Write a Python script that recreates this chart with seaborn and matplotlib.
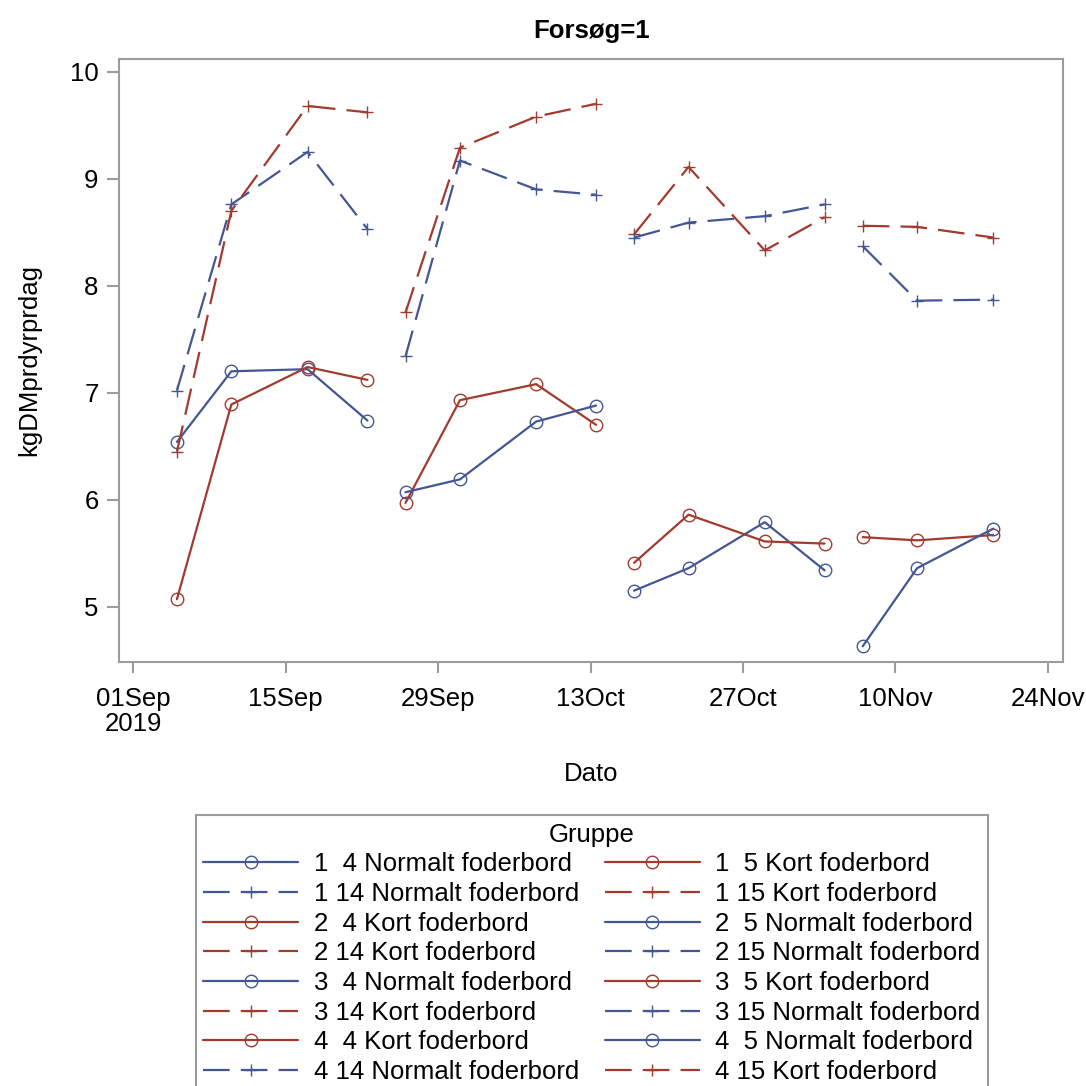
import matplotlib
matplotlib.use("Agg")
import matplotlib.pyplot as plt
import matplotlib.dates as mdates
from matplotlib.lines import Line2D
from matplotlib.path import Path
import pandas as pd
import seaborn as sns

# sampling dates for each trial period
dates_p1 = ["2019-09-05", "2019-09-10", "2019-09-17", "2019-09-22 12:00"]
dates_p2 = ["2019-09-26", "2019-10-01", "2019-10-08", "2019-10-13 12:00"]
dates_p3 = ["2019-10-17", "2019-10-22", "2019-10-29", "2019-11-03 12:00"]
dates_p4 = ["2019-11-07", "2019-11-12", "2019-11-19"]

# kg DM per animal per day, one list per group (period, pen, feed table)
v_1_4 = [6.54, 7.20, 7.22, 6.74]
v_1_14 = [7.02, 8.76, 9.25, 8.53]
v_2_4 = [5.97, 6.93, 7.08, 6.70]
v_2_14 = [7.75, 9.29, 9.58, 9.70]
v_3_4 = [5.15, 5.36, 5.79, 5.34]
v_3_14 = [8.48, 9.11, 8.33, 8.64]
v_4_4 = [5.65, 5.62, 5.67]
v_4_14 = [8.37, 7.86, 7.87]
v_1_5 = [5.07, 6.89, 7.24, 7.12]
v_1_15 = [6.45, 8.70, 9.68, 9.62]
v_2_5 = [6.07, 6.19, 6.73, 6.88]
v_2_15 = [7.34, 9.17, 8.90, 8.85]
v_3_5 = [5.41, 5.86, 5.61, 5.59]
v_3_15 = [8.45, 8.59, 8.65, 8.76]
v_4_5 = [4.63, 5.36, 5.73]
v_4_15 = [8.56, 8.55, 8.45]

series = [
    ("1  4 Normalt foderbord", dates_p1, v_1_4),
    ("1 14 Normalt foderbord", dates_p1, v_1_14),
    ("2  4 Kort foderbord", dates_p2, v_2_4),
    ("2 14 Kort foderbord", dates_p2, v_2_14),
    ("3  4 Normalt foderbord", dates_p3, v_3_4),
    ("3 14 Kort foderbord", dates_p3, v_3_14),
    ("4  4 Kort foderbord", dates_p4, v_4_4),
    ("4 14 Normalt foderbord", dates_p4, v_4_14),
    ("1  5 Kort foderbord", dates_p1, v_1_5),
    ("1 15 Kort foderbord", dates_p1, v_1_15),
    ("2  5 Normalt foderbord", dates_p2, v_2_5),
    ("2 15 Normalt foderbord", dates_p2, v_2_15),
    ("3  5 Kort foderbord", dates_p3, v_3_5),
    ("3 15 Normalt foderbord", dates_p3, v_3_15),
    ("4  5 Normalt foderbord", dates_p4, v_4_5),
    ("4 15 Kort foderbord", dates_p4, v_4_15),
]

tick_dates = ["2019-09-01", "2019-09-15", "2019-09-29", "2019-10-13",
              "2019-10-27", "2019-11-10", "2019-11-24"]
tick_labels = ["01Sep\n2019", "15Sep", "29Sep", "13Oct", "27Oct", "10Nov", "24Nov"]
y_ticks = [5, 6, 7, 8, 9, 10]

rows = []
for label, dates, vals in series:
    for d, v in zip(dates, vals):
        rows.append({"Dato": pd.Timestamp(d), "kgDMprdyrprdag": v, "Gruppe": label})
df = pd.DataFrame(rows)
gruppe = [s[0] for s in series]

colors = {"Normalt": "#445694", "Kort": "#A23A2E"}
# plus sign as a path so seaborn treats it like the circle
plus = Path([(-1, 0), (1, 0), (0, -1), (0, 1)],
            [Path.MOVETO, Path.LINETO, Path.MOVETO, Path.LINETO])


def is_long(label):
    return label.split()[1] in ("14", "15")


palette = {g: colors["Normalt" if "Normalt" in g else "Kort"] for g in gruppe}
markers = {g: plus if is_long(g) else "o" for g in gruppe}
dashes = {g: (12, 5) if is_long(g) else "" for g in gruppe}

sns.set_theme(style="white")
plt.rcParams["font.family"] = ["Liberation Sans", "DejaVu Sans"]
plt.rcParams["text.color"] = "black"
plt.rcParams["axes.labelcolor"] = "black"
FS = 18.5
GRAY = "#9c9c9c"
MS = 9

fig = plt.figure(figsize=(10.86, 10.86), dpi=100)
ax = fig.add_axes([0.1099, 0.3907, 0.8692, 0.555])
sns.lineplot(data=df, x="Dato", y="kgDMprdyrprdag", hue="Gruppe", style="Gruppe",
             hue_order=gruppe, style_order=gruppe, palette=palette,
             markers=markers, dashes=dashes, linewidth=1.6, markersize=MS,
             estimator=None, legend=False, ax=ax)

for line in ax.lines:
    line.set_markerfacecolor("none")
    line.set_markeredgecolor(line.get_color())
    line.set_markeredgewidth(1.0)

start = mdates.date2num(pd.Timestamp("2019-09-01"))
ax.set_xlim(start - 1.29, start + 85.43)
ax.set_ylim(4.486, 10.119)
ax.set_xticks(mdates.date2num(pd.to_datetime(tick_dates)))
ax.set_xticklabels(tick_labels)
ax.set_yticks(y_ticks)
ax.set_yticklabels([str(t) for t in y_ticks])
for lbl in ax.get_xticklabels():
    lbl.set_linespacing(1.05)

for sp in ax.spines.values():
    sp.set_color(GRAY)
    sp.set_linewidth(1.5)
ax.tick_params(axis="both", bottom=True, left=True, colors=GRAY, labelcolor="black",
               width=1.5, labelsize=FS, direction="out")
ax.tick_params(axis="x", length=8, pad=10)
ax.tick_params(axis="y", length=9, pad=6)

ax.set_title("Forsøg=1", fontsize=FS, fontweight="bold", pad=15, color="black")
ax.set_xlabel("Dato", fontsize=FS)
ax.set_ylabel("kgDMprdyrprdag", fontsize=FS)
ax.xaxis.set_label_coords(0.5, -0.166)
ax.yaxis.set_label_coords(-0.083, 0.5)

handles = []
for g in gruppe:
    kw = dict(color=palette[g], lw=1.6, marker=markers[g], markersize=MS,
              markerfacecolor="none", markeredgecolor=palette[g], markeredgewidth=1.0)
    if is_long(g):
        kw["dashes"] = dashes[g]
    handles.append(Line2D([], [], **kw))

leg = fig.legend(handles, gruppe, loc="upper center", bbox_to_anchor=(0.545, 1 - 815 / 1086),
                 ncol=2, title="Gruppe", fontsize=FS, title_fontsize=FS,
                 handlelength=3.7, handletextpad=0.6, columnspacing=1.0,
                 labelspacing=0.22, borderpad=0.3, borderaxespad=0, numpoints=1,
                 frameon=True, fancybox=False, framealpha=1)
leg.get_frame().set_edgecolor(GRAY)
leg.get_frame().set_linewidth(1.5)

fig.savefig("out.png", dpi=100)
